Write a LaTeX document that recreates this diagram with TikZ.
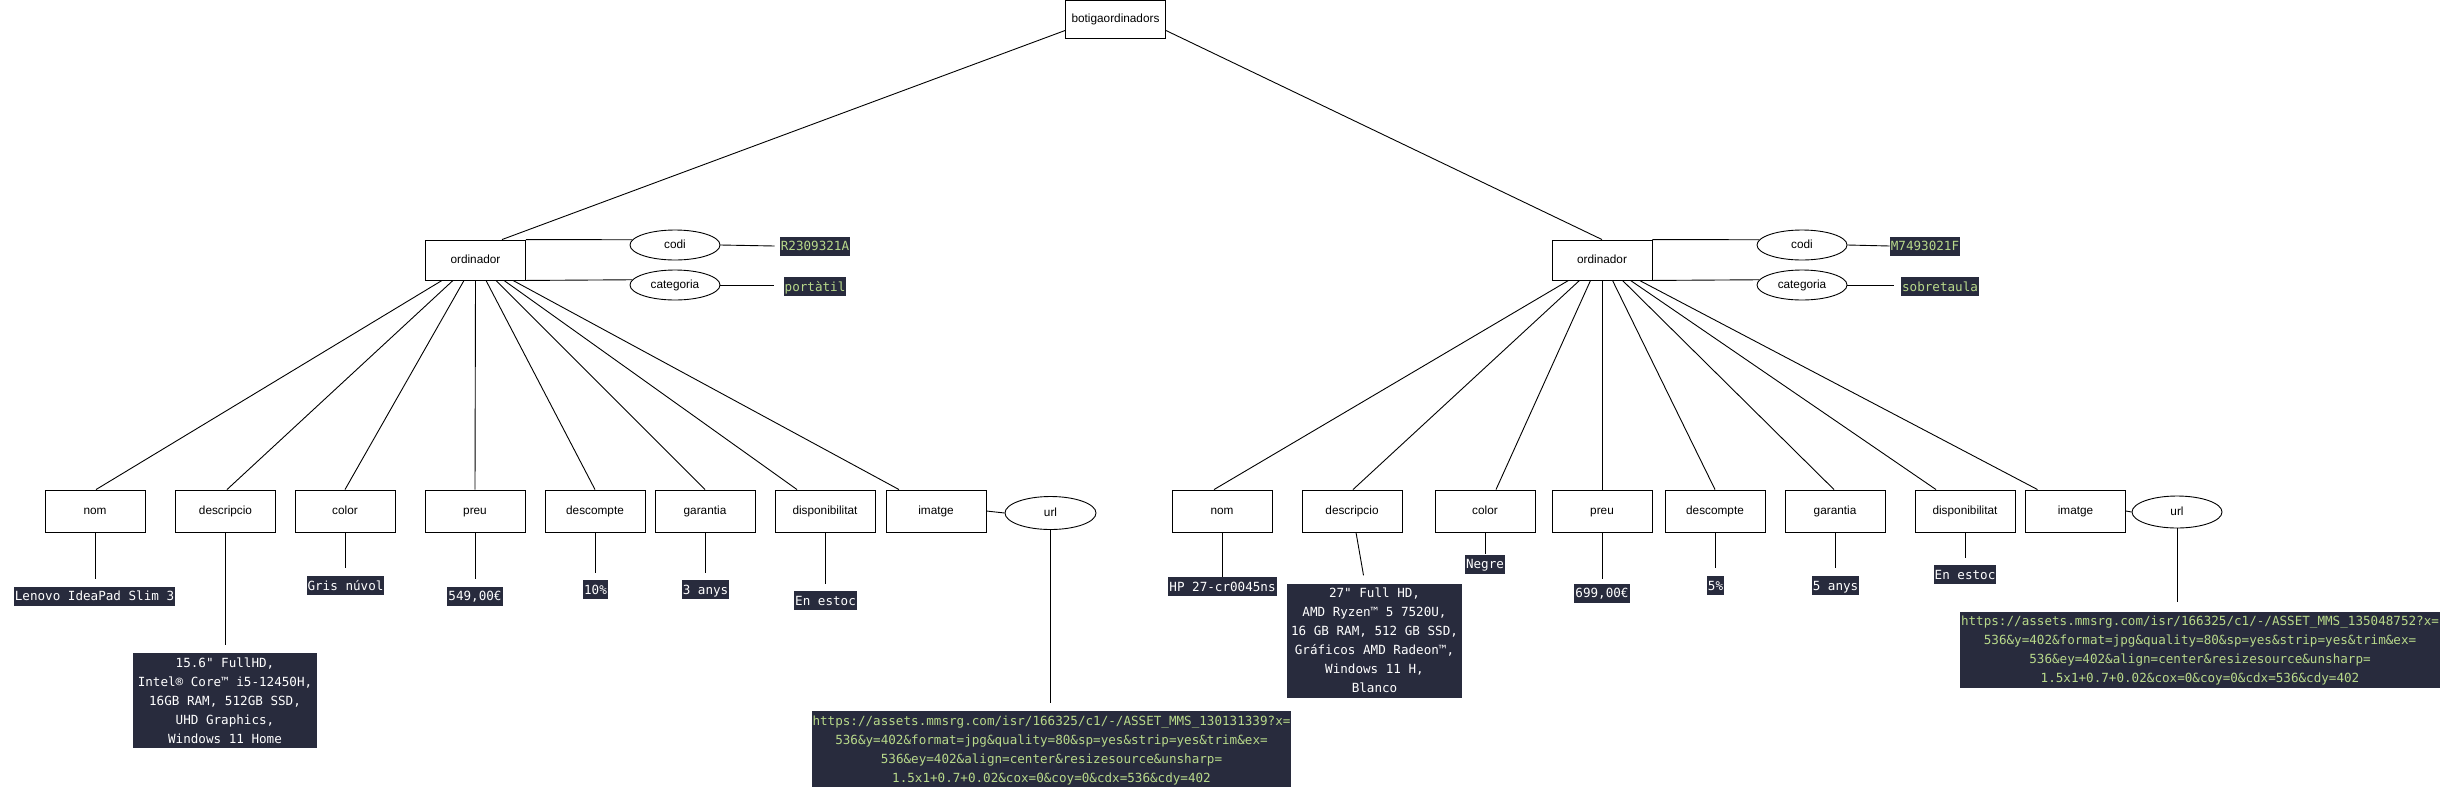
\documentclass[tikz,border=0pt]{standalone}
\usepackage{fontspec}
\setmainfont{Liberation Sans}
\newfontfamily\monof{DejaVu Sans Mono}
\usetikzlibrary{shapes.geometric,calc}
\definecolor{vbg}{HTML}{282B3D}
\definecolor{vgreen}{HTML}{B8D98A}
\newcommand\vs{\rule[-5pt]{0pt}{19pt}}
\tikzset{
  ent/.style={draw, line width=0.9pt, minimum width=100pt, minimum height=40pt, inner sep=0pt, text height=8.5pt, text depth=2.5pt, font=\fontsize{11.8}{14}\selectfont},
  leaf/.style={ent, minimum height=42pt},
  attr/.style={draw, ellipse, line width=0.9pt, minimum width=90pt, minimum height=30pt, inner sep=0pt, text height=8.5pt, text depth=2.5pt, font=\fontsize{11.8}{14}\selectfont},
  val/.style={fill=vbg, text=white, inner xsep=1pt, inner ysep=0pt, text height=14pt, text depth=5pt, font=\monof\fontsize{12.6}{19}\selectfont},
  gval/.style={val, text=vgreen},
  mval/.style={fill=vbg, text=white, align=center, inner xsep=1pt, inner ysep=0pt, font=\monof\fontsize{12.6}{19}\selectfont},
  conn/.style={line width=0.9pt}
}
\begin{document}
\begin{tikzpicture}[x=1pt,y=-1pt]
\fill[white] (0,0) rectangle (2443,801);
\useasboundingbox (0,0) rectangle (2443,801);

% root
\node[ent, minimum height=38pt] (root) at (1115.5,19.5) {botigaordinadors};

% ---------- left ----------
\node[ent] (o1) at (475.5,260) {ordinador};
\node[attr] (codi1) at (675,245) {codi};
\node[attr] (cat1) at (675,285) {categoria};
\node[gval] (vc1) at (815,246) {R2309321A};
\node[gval] (vk1) at (815,286.5) {portàtil};

\node[leaf] (n1) at (95,511) {nom};
\node[leaf] (d1) at (225.5,511) {descripcio};
\node[leaf] (c1) at (345,511) {color};
\node[leaf] (p1) at (475,511) {preu};
\node[leaf] (dc1) at (595,511) {descompte};
\node[leaf] (g1) at (705,511) {garantia};
\node[leaf] (ds1) at (825,511) {disponibilitat};
\node[leaf] (i1) at (936,511) {imatge};
\node[attr, minimum width=91pt, minimum height=33pt] (u1) at (1050.5,513) {url};

\node[val] (vn1) at (94.5,596) {Lenovo IdeaPad Slim 3};
\node[mval, minimum width=184pt] (vd1) at (225,700.5) {\vs 15.6" FullHD,\\\vs Intel® Core™ i5-12450H,\\\vs 16GB RAM, 512GB SSD,\\\vs UHD Graphics,\\\vs Windows 11 Home};
\node[val] (vcl1) at (345.5,585.5) {Gris núvol};
\node[val] (vp1) at (475,596) {549,00€};
\node[val] (vdc1) at (595.5,589.5) {10\%};
\node[val] (vg1) at (705.5,589.5) {3 anys};
\node[val] (vds1) at (825.5,600.5) {En estoc};
\node[mval, text=vgreen] (vu1) at (1051.5,749) {\vs https://assets.mmsrg.com/isr/166325/c1/-/ASSET\_MMS\_130131339?x=\\\vs 536\&y=402\&format=jpg\&quality=80\&sp=yes\&strip=yes\&trim\&ex=\\\vs 536\&ey=402\&align=center\&resizesource\&unsharp=\\\vs 1.5x1+0.7+0.02\&cox=0\&coy=0\&cdx=536\&cdy=402};

% ---------- right ----------
\node[ent] (o2) at (1602,260) {ordinador};
\node[attr] (codi2) at (1802,245) {codi};
\node[attr] (cat2) at (1802,285) {categoria};
\node[gval] (vc2) at (1925,246) {M7493021F};
\node[gval] (vk2) at (1940,286.5) {sobretaula};

\node[leaf] (n2) at (1222,511) {nom};
\node[leaf] (d2) at (1352,511) {descripcio};
\node[leaf] (c2) at (1485,511) {color};
\node[leaf] (p2) at (1602,511) {preu};
\node[leaf] (dc2) at (1715,511) {descompte};
\node[leaf] (g2) at (1835,511) {garantia};
\node[leaf] (ds2) at (1965,511) {disponibilitat};
\node[leaf] (i2) at (2075.5,511) {imatge};
\node[attr, minimum width=90pt, minimum height=32pt] (u2) at (2177,512) {url};

\node[val] (vn2) at (1222.5,586.5) {HP 27-cr0045ns};
\node[mval, minimum width=175pt] (vd2) at (1374.5,640.5) {\vs 27" Full HD,\\\vs AMD Ryzen™ 5 7520U,\\\vs 16 GB RAM, 512 GB SSD,\\\vs Gráficos AMD Radeon™,\\\vs Windows 11 H,\\\vs Blanco};
\node[val] (vcl2) at (1485,564) {Negre};
\node[val] (vp2) at (1602,593) {699,00€};
\node[val] (vdc2) at (1715.5,585.5) {5\%};
\node[val] (vg2) at (1835.5,585.5) {5 anys};
\node[val] (vds2) at (1965,574.5) {En estoc};
\node[mval, text=vgreen] (vu2) at (2200,649.5) {\vs https://assets.mmsrg.com/isr/166325/c1/-/ASSET\_MMS\_135048752?x=\\\vs 536\&y=402\&format=jpg\&quality=80\&sp=yes\&strip=yes\&trim\&ex=\\\vs 536\&ey=402\&align=center\&resizesource\&unsharp=\\\vs 1.5x1+0.7+0.02\&cox=0\&coy=0\&cdx=536\&cdy=402};

% ---------- connectors ----------
\draw[conn] ($(root.west)+(0,11)$) -- ($(o1.north)+(26.5,0)$);
\draw[conn] ($(root.east)+(0,11)$) -- (o2.north);

\draw[conn] (o1.north east) -- (codi1.173);
\draw[conn] (o1.south east) -- (cat1.173);
\draw[conn] (codi1.east) -- ($(vc1.west)+(-5,0)$);
\draw[conn] (cat1.east) -- ($(vk1.west |- cat1.east)+(-9,0)$);

\draw[conn] ($(o1.south)+(-33.5,0)$) -- ($(n1.north)+(1,0)$);
\draw[conn] ($(o1.south)+(-22.5,0)$) -- ($(d1.north)+(1.5,0)$);
\draw[conn] ($(o1.south)+(-11.5,0)$) -- (c1.north);
\draw[conn] (o1.south) -- (p1.north);
\draw[conn] ($(o1.south)+(10.5,0)$) -- (dc1.north);
\draw[conn] ($(o1.south)+(20.5,0)$) -- (g1.north);
\draw[conn] ($(o1.south)+(28.5,0)$) -- ($(ds1.north)+(-28,0)$);
\draw[conn] ($(o1.south)+(37.5,0)$) -- ($(i1.north)+(-37,0)$);
\draw[conn] (i1.east) -- (u1.west);

\draw[conn] (n1.south) -- ($(n1.south |- vn1.north)+(0,-7)$);
\draw[conn] (d1.south) -- ($(d1.south |- vd1.north)+(0,-8)$);
\draw[conn] (c1.south) -- ($(c1.south |- vcl1.north)+(0,-8)$);
\draw[conn] (p1.south) -- ($(p1.south |- vp1.north)+(0,-7)$);
\draw[conn] (dc1.south) -- ($(dc1.south |- vdc1.north)+(0,-7)$);
\draw[conn] (g1.south) -- ($(g1.south |- vg1.north)+(0,-7)$);
\draw[conn] (ds1.south) -- ($(ds1.south |- vds1.north)+(0,-7)$);
\draw[conn] (u1.south) -- ($(u1.south |- vu1.north)+(0,-8)$);

\draw[conn] (o2.north east) -- (codi2.173);
\draw[conn] (o2.south east) -- (cat2.173);
\draw[conn] (codi2.east) -- (vc2.west);
\draw[conn] (cat2.east) -- ($(vk2.west |- cat2.east)+(-7,0)$);

\draw[conn] ($(o2.south)+(-33.5,0)$) -- ($(n2.north)+(-8,0)$);
\draw[conn] ($(o2.south)+(-22.5,0)$) -- ($(d2.north)+(1,0)$);
\draw[conn] ($(o2.south)+(-11.5,0)$) -- ($(c2.north)+(11,0)$);
\draw[conn] (o2.south) -- (p2.north);
\draw[conn] ($(o2.south)+(10.5,0)$) -- (dc2.north);
\draw[conn] ($(o2.south)+(20.5,0)$) -- ($(g2.north)+(-1,0)$);
\draw[conn] ($(o2.south)+(28.5,0)$) -- ($(ds2.north)+(-29,0)$);
\draw[conn] ($(o2.south)+(37.5,0)$) -- ($(i2.north)+(-38,0)$);
\draw[conn] (i2.east) -- (u2.west);

\draw[conn] (n2.south) -- (n2.south |- vn2.north);
\draw[conn] ($(d2.south)+(4,0)$) -- ($(vd2.north)+(-11,-8)$);
\draw[conn] (c2.south) -- (c2.south |- vcl2.north);
\draw[conn] (p2.south) -- ($(p2.south |- vp2.north)+(0,-4)$);
\draw[conn] (dc2.south) -- ($(dc2.south |- vdc2.north)+(0,-8)$);
\draw[conn] (g2.south) -- ($(g2.south |- vg2.north)+(0,-8)$);
\draw[conn] (ds2.south) -- ($(ds2.south |- vds2.north)+(0,-7)$);
\draw[conn] (u2.south) -- ($(u2.south |- vu2.north)+(0,-9)$);
\end{tikzpicture}
\end{document}
